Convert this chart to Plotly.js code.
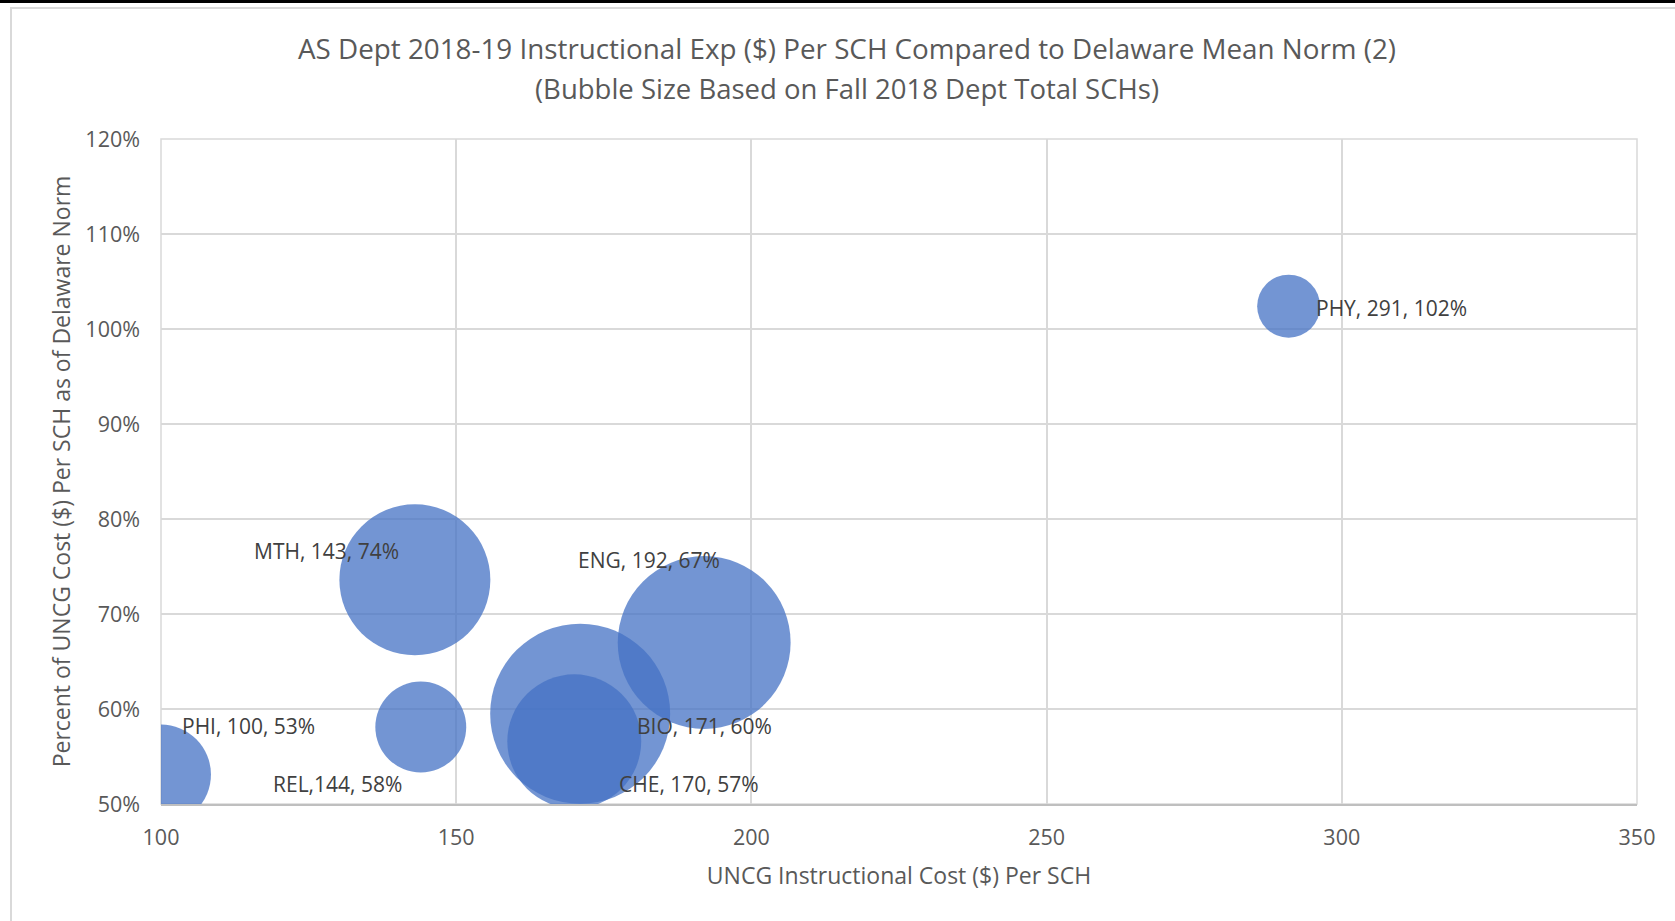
<!DOCTYPE html>
<html>
<head>
<meta charset="utf-8">
<script src="https://cdn.plot.ly/plotly-3.0.1.min.js"></script>
<style>
  html, body { margin: 0; padding: 0; background: #ffffff; }
  #wrap { position: relative; width: 1675px; height: 921px; overflow: hidden; }
  #chart { position: absolute; left: 0; top: 0; width: 1675px; height: 921px; }
  .topbar { position: absolute; left: 0; top: 0; width: 1675px; height: 3px; background: #000; }
  .frameTop { position: absolute; left: 10px; top: 7px; width: 1665px; height: 2px; background: #d9d9d9; }
  .frameLeft { position: absolute; left: 10px; top: 7px; width: 2px; height: 914px; background: #d9d9d9; }
</style>
</head>
<body>
<div id="wrap">
  <div id="chart"></div>
  <div class="topbar"></div>
  <div class="frameTop"></div>
  <div class="frameLeft"></div>
</div>
<script>
// ---- data ----
const depts = ['MTH', 'REL', 'PHI', 'BIO', 'CHE', 'ENG', 'PHY'];
const costPerSCH = [143, 144, 100, 171, 170, 192, 291];
const pctOfNorm = [0.736, 0.581, 0.531, 0.595, 0.566, 0.670, 1.024];
const totalSCH = [8440, 3060, 3700, 12000, 6640, 11070, 1470];
const dataLabels = ['MTH, 143, 74%', 'REL,144, 58%', 'PHI, 100, 53%', 'BIO, 171, 60%', 'CHE, 170, 57%', 'ENG, 192, 67%', 'PHY, 291, 102%'];
const xTickVals = [100, 150, 200, 250, 300, 350];
const xTickText = ['100', '150', '200', '250', '300', '350'];
const yTickVals = [0.5, 0.6, 0.7, 0.8, 0.9, 1.0, 1.1, 1.2];
const yTickText = ['50%', '60%', '70%', '80%', '90%', '100%', '110%', '120%'];

// ---- styling ----
const labelShift = [[-88, 29], [-83, -57], [87, 49], [124, -12], [115, -43], [-55, 83], [103, -2]];
const maxDiameter = 180;
const font = 'Open Sans, Noto Sans, sans-serif';

const trace = {
  type: 'scatter',
  mode: 'markers',
  x: costPerSCH,
  y: pctOfNorm,
  text: depts,
  cliponaxis: true,
  marker: {
    size: totalSCH,
    sizemode: 'area',
    sizeref: 2 * Math.max(...totalSCH) / (maxDiameter * maxDiameter),
    color: '#4472C4',
    opacity: 0.75,
    line: { width: 0 }
  },
  hovertemplate: '%{text}: %{x}, %{y:.0%}<extra></extra>',
  showlegend: false
};

const annotations = dataLabels.map((t, i) => ({
  x: costPerSCH[i], y: pctOfNorm[i], xref: 'x', yref: 'y',
  text: t, showarrow: false,
  xshift: labelShift[i][0], yshift: labelShift[i][1],
  font: { family: font, size: 21, color: '#404040' }
}));
annotations.push({
  xref: 'paper', yref: 'paper', x: (847 - 161) / (1637 - 161), y: 1 + (139 - 88) / (804 - 139),
  text: '(Bubble Size Based on Fall 2018 Dept Total SCHs)', showarrow: false,
  xanchor: 'center', yanchor: 'middle',
  font: { family: font, size: 27.5, color: '#595959' }
});

const layout = {
  width: 1675, height: 921,
  paper_bgcolor: '#ffffff', plot_bgcolor: '#ffffff',
  margin: { l: 161, r: 38, t: 139, b: 117 },
  font: { family: font, color: '#595959' },
  title: {
    text: 'AS Dept 2018-19 Instructional Exp ($) Per SCH Compared to Delaware Mean Norm (2)',
    font: { family: font, size: 27.8, color: '#595959' },
    xref: 'container', yref: 'container', x: 847 / 1675, y: 1 - 49 / 921,
    xanchor: 'center', yanchor: 'middle'
  },
  xaxis: {
    range: [100, 350], tickvals: xTickVals, ticktext: xTickText,
    showgrid: true, gridcolor: '#d9d9d9', gridwidth: 1.5,
    zeroline: false, showline: true, linecolor: '#bfbfbf', linewidth: 1.5,
    ticks: '', ticklabelstandoff: 13,
    tickfont: { family: font, size: 21.5, color: '#595959' },
    title: { text: 'UNCG Instructional Cost ($) Per SCH', font: { family: font, size: 23, color: '#595959' }, standoff: 18 },
    automargin: false, fixedrange: true
  },
  yaxis: {
    range: [0.5, 1.2], tickvals: yTickVals, ticktext: yTickText,
    showgrid: true, gridcolor: '#d9d9d9', gridwidth: 1.5,
    zeroline: false, showline: false,
    ticks: '', ticklabelstandoff: 20,
    tickfont: { family: font, size: 21.5, color: '#595959' },
    title: { text: 'Percent of UNCG Cost ($) Per SCH as of Delaware Norm', font: { family: font, size: 23, color: '#595959' }, standoff: 8 },
    automargin: false, fixedrange: true
  },
  shapes: [{
    type: 'rect', xref: 'paper', yref: 'paper', x0: 0, x1: 1, y0: 0, y1: 1,
    line: { color: '#d9d9d9', width: 1.5 }, fillcolor: 'rgba(0,0,0,0)', layer: 'below'
  }],
  annotations: annotations,
  hovermode: 'closest'
};

Plotly.newPlot('chart', [trace], layout, { displayModeBar: false, responsive: false });
</script>
</body>
</html>
